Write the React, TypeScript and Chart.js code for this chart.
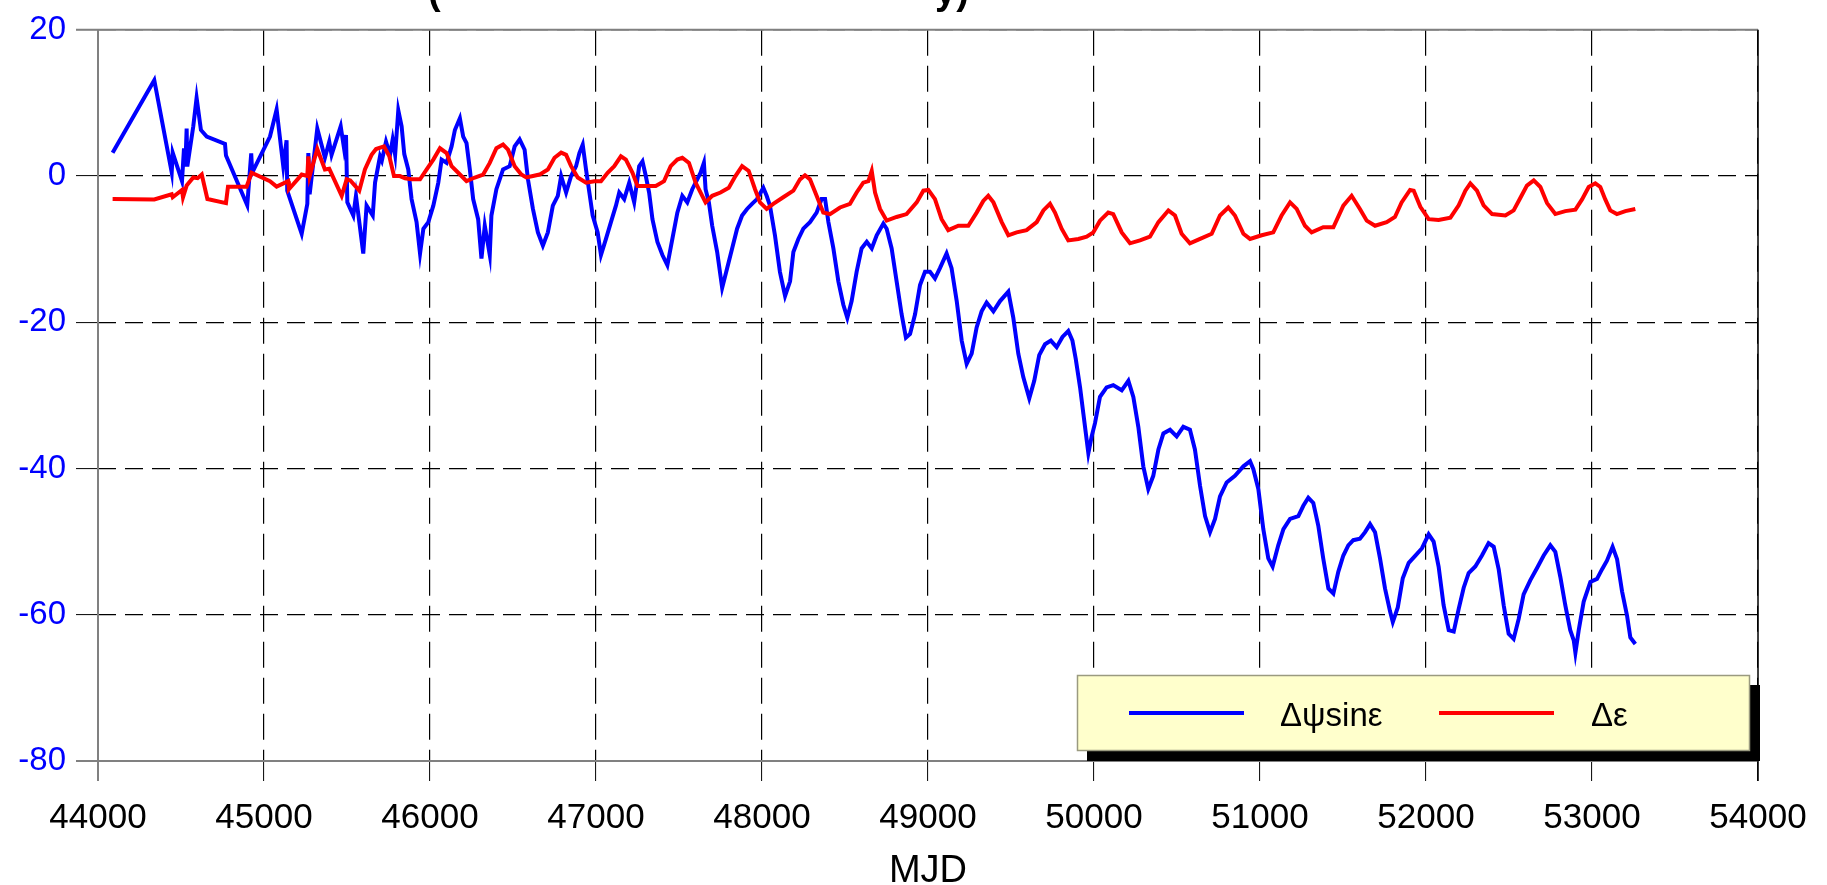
import React, { useEffect, useRef } from "react";
import { Chart, registerables } from "chart.js";

Chart.register(...registerables);

const FONT = "'Liberation Sans', Arial, Helvetica, sans-serif";

const xTicks = [44000, 45000, 46000, 47000, 48000, 49000, 50000, 51000, 52000, 53000, 54000];
const yTicks = [-80, -60, -40, -20, 0, 20];
const seriesLabels = ["Δψsinε", "Δε"];
const xTitle = "MJD";
const titleFragments = ["(", "y)"];

const blueMjd = [
  44088, 44339, 44444, 44450, 44506, 44518, 44526, 44534, 44538, 44574, 44594, 44620, 44655, 44765, 44771,
  44899, 44923, 44929, 45036, 45076, 45116, 45136, 45140, 45227, 45261, 45267, 45275, 45321, 45367, 45393,
  45407, 45462, 45482, 45494, 45502, 45538, 45554, 45598, 45618, 45655, 45669, 45699, 45710, 45735, 45759,
  45775, 45790, 45809, 45829, 45845, 45869, 45889, 45919, 45940, 45960, 45990, 46020, 46050, 46070, 46100,
  46130, 46150, 46180, 46200, 46220, 46240, 46260, 46290, 46310, 46330, 46360, 46370, 46400, 46440, 46480,
  46510, 46540, 46570, 46590, 46620, 46650, 46680, 46710, 46740, 46770, 46790, 46820, 46850, 46880, 46900,
  46920, 46940, 46960, 46980, 47010, 47030, 47060, 47090, 47120, 47140, 47170, 47200, 47230, 47260, 47280,
  47300, 47320, 47340, 47370, 47400, 47430, 47460, 47490, 47520, 47550, 47580, 47610, 47630, 47650, 47660,
  47680, 47700, 47730, 47760, 47790, 47820, 47850, 47880, 47910, 47940, 47970, 48008, 48028, 48048, 48078,
  48108, 48139, 48169, 48189, 48219, 48249, 48289, 48329, 48359, 48380, 48400, 48430, 48460, 48490, 48514,
  48540, 48570, 48600, 48631, 48661, 48691, 48731, 48751, 48781, 48811, 48841, 48867, 48892, 48922, 48952,
  48982, 49012, 49042, 49072, 49112, 49142, 49173, 49203, 49233, 49263, 49293, 49323, 49353, 49394, 49434,
  49484, 49514, 49544, 49574, 49610, 49640, 49670, 49705, 49740, 49775, 49810, 49845, 49870, 49890, 49916,
  49936, 49966, 49986, 50006, 50036, 50076, 50116, 50167, 50207, 50237, 50267, 50297, 50327, 50357, 50388,
  50418, 50458, 50498, 50538, 50578, 50608, 50639, 50669, 50699, 50729, 50759, 50799, 50849, 50900, 50940,
  50960, 50990, 51020, 51050, 51076, 51110, 51141, 51181, 51231, 51261, 51291, 51321, 51351, 51381, 51412,
  51442, 51472, 51502, 51532, 51562, 51602, 51633, 51663, 51693, 51723, 51753, 51783, 51800, 51830, 51860,
  51896, 51936, 51976, 52016, 52046, 52076, 52106, 52137, 52167, 52197, 52227, 52257, 52297, 52337, 52377,
  52408, 52438, 52468, 52498, 52528, 52558, 52588, 52628, 52669, 52709, 52749, 52779, 52809, 52839, 52869,
  52890, 52900, 52920, 52950, 52990, 53030, 53060, 53090, 53124, 53151, 53181, 53211, 53231, 53261,
];
const blueVal = [
  3.2, 13.1, 0.5, 3.2, -0.7, 3.8, 1.3, 6.5, 1.3, 6.8, 10.7, 6.3, 5.4, 4.4, 2.8,
  -4.0, 3.1, 0.45, 5.4, 9.1, 1.35, 4.9, -2.0, -7.9, -3.8, 3.15, -2.5, 6.5, 2.5, 4.7,
  2.9, 6.8, 3.8, 5.6, -3.6, -5.4, -2.7, -10.6, -4.05, -5.4, -0.9, 2.7, 2.1, 4.7, 2.9,
  5.0, 2.9, 9.0, 6.8, 3.0, 0.9, -3.15, -6.3, -10.6, -7.2, -6.3, -4.05, -0.9, 2.25, 1.8,
  4.05, 6.3, 7.9, 5.4, 4.5, 0.9, -3.15, -5.9, -11.3, -6.8, -10.8, -5.4, -1.8, 0.9, 1.35,
  4.05, 5.0, 3.6, -0.45, -4.5, -7.7, -9.5, -7.7, -4.05, -2.7, 0, -2.25, 0, 1.35, 3.15,
  4.3, 0.9, -2.25, -5.4, -7.7, -10.8, -8.6, -6.3, -4.05, -2.25, -3.15, -0.9, -3.6, 1.35, 2.0,
  0, -2.25, -5.9, -9.0, -10.8, -12.2, -8.6, -5.0, -2.7, -3.6, -1.8, -0.45, 0.45, 1.8, -1.8,
  -3.6, -6.8, -10.4, -15.3, -12.6, -9.9, -7.2, -5.4, -4.5, -3.8, -3.15, -1.6, -2.7, -4.05, -8.1,
  -13.1, -16.4, -14.4, -10.4, -8.6, -7.2, -6.3, -5.0, -3.15, -3.15, -6.3, -9.9, -14.4, -17.6, -19.4,
  -17.1, -13.1, -9.9, -9.0, -9.9, -8.1, -6.5, -7.2, -9.9, -14.4, -18.9, -22.1, -21.6, -18.9, -14.9,
  -13.1, -13.1, -14.0, -12.6, -10.6, -12.6, -17.1, -22.5, -25.7, -24.3, -20.7, -18.5, -17.3, -18.5, -17.1,
  -15.8, -19.4, -24.3, -27.5, -30.4, -28, -24.5, -23.0, -22.5, -23.4, -22, -21.2, -22.5, -25, -28.9,
  -32.5, -37.9, -35.6, -33.8, -30.2, -28.9, -28.6, -29.3, -28.0, -30.2, -34.3, -39.7, -42.8, -41.0, -37.4,
  -35.2, -34.7, -35.6, -34.3, -34.7, -37.4, -42.4, -46.5, -48.7, -46.9, -43.8, -41.9, -41.0, -39.7, -39.0,
  -40.1, -42.8, -48.3, -52.3, -53.4, -50.5, -48.3, -46.9, -46.5, -45.1, -44.0, -44.7, -47.8, -52.3, -56.4,
  -57.1, -54.1, -51.9, -50.5, -49.8, -49.6, -48.7, -47.6, -48.7, -52.3, -56.4, -59.5, -61, -59, -55,
  -52.9, -51.9, -50.9, -49.0, -50.0, -53.4, -58.7, -62.1, -62.3, -59.2, -56.3, -54.3, -53.4, -51.9, -50.2,
  -50.7, -53.8, -58.7, -62.6, -63.3, -60.6, -57.2, -55.3, -53.6, -51.9, -50.5, -51.4, -54.8, -58.7, -62.1,
  -63.5, -65.2, -62.1, -58.2, -55.5, -55.1, -53.8, -52.6, -50.7, -52.4, -56.8, -60.1, -63.1, -64.0,
];

const redMjd = [
  44088, 44339, 44444, 44450, 44506, 44512, 44534, 44574, 44600, 44625, 44659, 44771, 44783, 44895, 44925,
  45036, 45076, 45146, 45150, 45227, 45261, 45267, 45275, 45321, 45367, 45393, 45468, 45498, 45520, 45574,
  45608, 45648, 45675, 45723, 45755, 45783, 45819, 45850, 45889, 45940, 45980, 46020, 46060, 46100, 46130,
  46170, 46220, 46270, 46320, 46360, 46400, 46440, 46470, 46510, 46550, 46580, 46620, 46660, 46710, 46750,
  46790, 46820, 46850, 46890, 46940, 46990, 47030, 47070, 47110, 47150, 47180, 47220, 47250, 47300, 47360,
  47410, 47450, 47490, 47520, 47560, 47600, 47640, 47660, 47700, 47750, 47800, 47840, 47880, 47920, 47958,
  47988, 48028, 48068, 48128, 48189, 48229, 48259, 48289, 48329, 48369, 48410, 48470, 48530, 48570, 48610,
  48641, 48661, 48681, 48711, 48751, 48811, 48871, 48932, 48972, 49002, 49042, 49082, 49122, 49183, 49243,
  49293, 49333, 49363, 49394, 49444, 49484, 49534, 49594, 49655, 49695, 49735, 49765, 49805, 49845, 49906,
  49956, 49996, 50036, 50086, 50116, 50167, 50217, 50277, 50337, 50388, 50448, 50488, 50528, 50578, 50639,
  50709, 50759, 50809, 50849, 50900, 50940, 51010, 51080, 51130, 51181, 51221, 51271, 51311, 51381, 51442,
  51502, 51552, 51602, 51643, 51693, 51763, 51813, 51853, 51904, 51926, 51966, 52016, 52076, 52147, 52197,
  52237, 52267, 52307, 52347, 52398, 52478, 52528, 52568, 52608, 52649, 52689, 52729, 52779, 52839, 52900,
  52940, 52980, 53020, 53050, 53080, 53110, 53150, 53201, 53261,
];
const redVal = [
  -3.15, -3.2, -2.5, -2.9, -1.9, -2.9, -1.3, -0.2, -0.3, 0.2, -3.15, -3.7, -1.45, -1.45, 0.45,
  -0.7, -1.45, -0.7, -1.8, 0.2, 0, 2.7, 0, 3.7, 0.9, 1.0, -2.7, -0.45, -0.6, -2.0,
  0.9, 2.9, 3.7, 4.05, 2.7, 0, 0, -0.3, -0.45, -0.45, 0.9, 2.25, 3.8, 3.15, 1.35,
  0.45, -0.7, -0.2, 0.2, 1.8, 3.8, 4.3, 3.6, 1.35, 0.2, -0.2, 0, 0.2, 0.9, 2.5,
  3.2, 2.9, 1.35, -0.2, -0.9, -0.7, -0.7, 0.45, 1.35, 2.7, 2.25, 0.45, -1.35, -1.35, -1.35,
  -0.7, 1.35, 2.25, 2.5, 1.8, -0.9, -2.7, -3.6, -2.7, -2.25, -1.6, 0, 1.35, 0.7, -1.8,
  -3.6, -4.5, -3.8, -2.9, -2.0, -0.45, 0.1, -0.45, -2.7, -5.0, -5.2, -4.3, -3.8, -2.25, -0.9,
  -0.7, 0.7, -2.25, -4.5, -6.1, -5.6, -5.2, -3.6, -2.0, -1.9, -3.15, -5.9, -7.4, -6.8, -6.8,
  -5.0, -3.4, -2.7, -3.6, -6.3, -8.1, -7.7, -7.4, -6.3, -4.7, -3.8, -5.0, -7.2, -8.8, -8.6,
  -8.3, -7.7, -6.1, -5.0, -5.2, -7.7, -9.2, -8.8, -8.3, -6.3, -4.7, -5.4, -7.9, -9.2, -8.6,
  -7.9, -5.4, -4.3, -5.4, -7.9, -8.6, -8.1, -7.7, -5.4, -3.6, -4.5, -6.8, -7.7, -7.0, -7.0,
  -4.05, -2.7, -4.5, -6.1, -6.8, -6.3, -5.6, -3.6, -1.9, -2.0, -4.2, -5.9, -6.0, -5.7, -4.0,
  -2.0, -1.0, -2.0, -4.0, -5.2, -5.4, -4.7, -3.0, -1.3, -0.6, -1.5, -3.7, -5.2, -4.8, -4.6,
  -3.2, -1.5, -1.0, -1.5, -3.2, -4.7, -5.2, -4.8, -4.5,
];

const seriesColors = ["#0000FF", "#FF0000"];

const framePlugin = {
  id: "frame",
  beforeDatasetsDraw(chart: any) {
    const { ctx, chartArea: a } = chart;
    ctx.save();
    ctx.setLineDash([]);
    ctx.strokeStyle = "#808080";
    ctx.lineWidth = 2;
    ctx.beginPath();
    ctx.moveTo(a.left - 22, a.top);
    ctx.lineTo(a.right, a.top);
    ctx.moveTo(a.left - 22, a.bottom);
    ctx.lineTo(a.right, a.bottom);
    ctx.moveTo(a.left, a.top);
    ctx.lineTo(a.left, a.bottom + 20);
    ctx.stroke();
    ctx.strokeStyle = "#000";
    ctx.lineWidth = 1.5;
    ctx.beginPath();
    ctx.moveTo(a.right, a.top);
    ctx.lineTo(a.right, a.bottom + 20);
    ctx.stroke();
    ctx.restore();
  },
};

const legendPlugin = {
  id: "boxLegend",
  afterDraw(chart: any) {
    const { ctx, chartArea: a } = chart;
    const ds = chart.data.datasets;
    const w = 673;
    const h = 76;
    const x0 = a.right - 8 - w;
    const y0 = a.bottom - 10 - h;
    ctx.save();
    ctx.setLineDash([]);
    ctx.fillStyle = "#000";
    ctx.fillRect(x0 + 10, y0 + 10, w, h);
    ctx.fillStyle = "#FFFFCC";
    ctx.fillRect(x0, y0, w, h);
    ctx.strokeStyle = "#9a9a80";
    ctx.lineWidth = 1.5;
    ctx.strokeRect(x0 + 0.5, y0 + 0.5, w - 1, h - 1);
    const items = [
      { lx: 52, tx: 203 },
      { lx: 362, tx: 514 },
    ];
    items.forEach((it, i) => {
      ctx.strokeStyle = ds[i].borderColor;
      ctx.lineWidth = 4;
      ctx.beginPath();
      ctx.moveTo(x0 + it.lx, y0 + 38);
      ctx.lineTo(x0 + it.lx + 115, y0 + 38);
      ctx.stroke();
      ctx.fillStyle = "#000";
      ctx.font = `33px ${FONT}`;
      ctx.textBaseline = "alphabetic";
      ctx.textAlign = "left";
      ctx.fillText(ds[i].label, x0 + it.tx, y0 + 51);
    });
    ctx.restore();
  },
};

const titlePlugin = {
  id: "clippedTitle",
  afterDraw(chart: any) {
    const { ctx } = chart;
    ctx.save();
    ctx.fillStyle = "#000";
    ctx.font = `bold 38px ${FONT}`;
    ctx.textBaseline = "alphabetic";
    ctx.textAlign = "left";
    ctx.fillText(titleFragments[0], 428, 4);
    ctx.fillText(titleFragments[1], 935, 4);
    ctx.restore();
  },
};

export default function App() {
  const ref = useRef<HTMLCanvasElement | null>(null);
  useEffect(() => {
    if (!ref.current) return;
    const chart = new Chart(ref.current, {
      type: "line",
      data: {
        datasets: [
          {
            label: seriesLabels[0],
            data: blueMjd.map((x, i) => ({ x, y: blueVal[i] })),
            borderColor: seriesColors[0],
            backgroundColor: seriesColors[0],
            borderWidth: 4,
            pointRadius: 0,
            tension: 0,
            fill: false,
            order: 1,
          },
          {
            label: seriesLabels[1],
            data: redMjd.map((x, i) => ({ x, y: redVal[i] })),
            borderColor: seriesColors[1],
            backgroundColor: seriesColors[1],
            borderWidth: 4,
            pointRadius: 0,
            tension: 0,
            fill: false,
            order: 0,
          },
        ],
      },
      options: {
        animation: false,
        responsive: false,
        maintainAspectRatio: false,
        layout: { padding: { top: 22, right: 69, left: 0, bottom: 0 } },
        plugins: { legend: { display: false }, tooltip: { enabled: false }, title: { display: false } },
        scales: {
          x: {
            type: "linear",
            min: 44000,
            max: 54000,
            afterBuildTicks: (s: any) => {
              s.ticks = xTicks.map((v) => ({ value: v }));
            },
            afterFit: (s: any) => {
              s.height = 124;
            },
            ticks: {
              autoSkip: false,
              maxRotation: 0,
              minRotation: 0,
              padding: 16,
              color: "#000",
              font: { family: FONT, size: 35 },
              callback: (v: any) => String(v),
            },
            grid: {
              color: "#000",
              lineWidth: 1.2,
              drawTicks: true,
              tickLength: 20,
              tickColor: "#000",
              tickWidth: 1,
            },
            border: { display: false, dash: [26, 10] },
            title: {
              display: true,
              text: xTitle,
              color: "#000",
              font: { family: FONT, size: 38 },
              padding: { top: 0, bottom: -9 },
            },
          },
          y: {
            type: "linear",
            min: -80,
            max: 20,
            afterBuildTicks: (s: any) => {
              s.ticks = yTicks.map((v) => ({ value: v }));
            },
            afterFit: (s: any) => {
              s.width = 98;
            },
            ticks: {
              padding: 10,
              color: "#0000FF",
              font: { family: FONT, size: 33 },
              callback: (v: any) => String(v),
            },
            grid: {
              color: "#000",
              lineWidth: 1.2,
              drawTicks: true,
              tickLength: 22,
              tickColor: "#000",
              tickWidth: 1,
            },
            border: { display: false, dash: [18, 9] },
          },
        },
      },
      plugins: [framePlugin, legendPlugin, titlePlugin],
    } as any);
    return () => chart.destroy();
  }, []);
  return (
    <div style={{ position: "fixed", left: 0, top: 0, width: 1827, height: 885, background: "#fff" }}>
      <canvas ref={ref} width={1827} height={885} style={{ display: "block", width: 1827, height: 885 }} />
    </div>
  );
}
